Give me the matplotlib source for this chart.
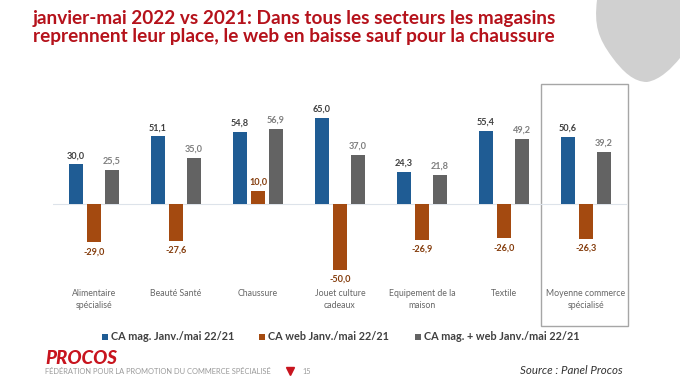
import matplotlib
matplotlib.use("Agg")
import matplotlib.pyplot as plt
import numpy as np
from matplotlib.patches import PathPatch, Rectangle
from matplotlib.path import Path

categories = ["Alimentaire\nspécialisé", "Beauté Santé", "Chaussure", "Jouet culture\ncadeaux",
              "Equipement de la\nmaison", "Textile", "Moyenne commerce\nspécialisé"]
mag = [30.0, 51.1, 54.8, 65.0, 24.3, 55.4, 50.6]
web = [-29.0, -27.6, 10.0, -50.0, -26.9, -26.0, -26.3]
total = [25.5, 35.0, 56.9, 37.0, 21.8, 49.2, 39.2]
legend_labels = ["CA mag. Janv./mai 22/21", "CA web Janv./mai 22/21", "CA mag. + web Janv./mai 22/21"]
title = "janvier-mai 2022 vs 2021: Dans tous les secteurs les magasins\nreprennent leur place, le web en baisse sauf pour la chaussure"

BLUE, ORANGE, GREY = "#1F5C94", "#A44A10", "#636363"
W, H = 680, 382
plt.rcParams['font.family'] = ['Lato', 'DejaVu Sans']
fig = plt.figure(figsize=(W/100, H/100), dpi=100, facecolor="white")

# full-figure overlay in pixel coordinates for slide decoration
bg = fig.add_axes([0, 0, 1, 1], zorder=0)
bg.set_xlim(0, W); bg.set_ylim(H, 0); bg.axis("off")
blob = [(Path.MOVETO, (597, 0)), (Path.CURVE4, (594, 25)), (Path.CURVE4, (598, 38)), (Path.CURVE4, (612, 57)),
        (Path.CURVE4, (623, 72)), (Path.CURVE4, (634, 82)), (Path.CURVE4, (647, 82)),
        (Path.CURVE4, (660, 80)), (Path.CURVE4, (672, 68)), (Path.CURVE4, (680, 58)),
        (Path.LINETO, (680, 0)), (Path.CLOSEPOLY, (597, 0))]
codes, verts = zip(*blob)
bg.add_patch(PathPatch(Path(verts, codes), fc="#D0D0D0", ec="none"))
bg.add_patch(Rectangle((540.5, 83.5), 87, 242, fc="none", ec="#A6A6A6", lw=1))
bg.text(33, 27.5, title, color="#B5121B", fontsize=13.65, fontweight="bold", va="center", ha="left", linespacing=1.02)
bg.text(45, 359, "PROCOS", color="#C8141E", fontsize=13.5, fontweight="black", style="italic", va="center", ha="left")
bg.text(45, 371, "FÉDÉRATION POUR LA PROMOTION DU COMMERCE SPÉCIALISÉ", color="#9A9A9A", fontsize=5.4, va="center", ha="left")
bg.text(307, 371, "15", color="#9A9A9A", fontsize=5.3, va="center", ha="center")
bg.plot([290], [370.5], marker="v", ms=6, color="#C8141E", ls="none")
bg.text(623, 370, "Source : Panel Procos", color="#333333", fontsize=8.3, style="italic", va="center", ha="right")

# chart
ax = fig.add_axes([53/W, 1-289.5/H, 574/W, 190/H], zorder=1)
ax.patch.set_alpha(0)
x = np.arange(len(categories))
bw, off = 14.5/82, 18/82
series = [(mag, BLUE, -off, "#404040"), (web, ORANGE, 0, "#843C0C"), (total, GREY, off, "#7F7F7F")]
for vals, col, dx, tcol in series:
    ax.bar(x + dx, vals, bw, color=col, label=None)
    for xi, v in zip(x, vals):
        ax.annotate(f"{v:.1f}".replace(".", ","), (xi + dx, v), xytext=(0, 3 if v > 0 else -3.5),
                    textcoords="offset points", ha="center", va="bottom" if v > 0 else "top",
                    fontsize=6.6, fontweight="bold", color=tcol)
ax.set_xlim(-0.5, 6.5)
ax.set_ylim(-64.6, 79)
ax.axhline(0, color="#DDE3EA", lw=0.8, zorder=0)
ax.set_xticks(x)
ax.set_xticklabels(categories, fontsize=6.35, color="#666666", linespacing=1.3)
ax.tick_params(axis="x", length=0, pad=0)
ax.yaxis.set_visible(False)
for s in ax.spines.values():
    s.set_visible(False)

# legend
for px, lab, col in zip([102, 259, 415], legend_labels, [BLUE, ORANGE, GREY]):
    bg.add_patch(Rectangle((px, 334), 5.5, 5.5, fc=col, ec="none"))
    bg.text(px + 9, 337, lab, color="#404040", fontsize=7.85, fontweight="bold", va="center", ha="left")

fig.savefig("out.png", dpi=100)
